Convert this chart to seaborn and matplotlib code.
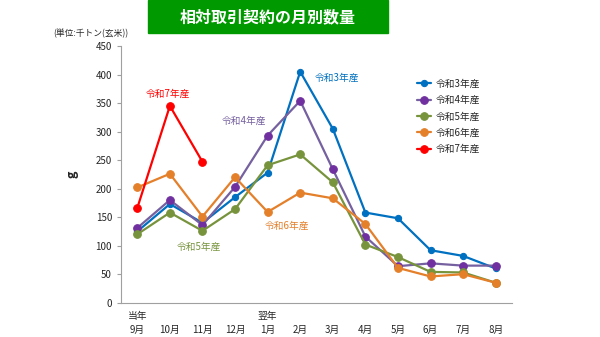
import numpy as np
import pandas as pd
import matplotlib
matplotlib.use('Agg')
import matplotlib.pyplot as plt
from matplotlib.patches import Rectangle
import seaborn as sns

# データ (単位: 千トン(玄米))
months = ['当年\n9月', '\n10月', '\n11月', '\n12月', '翌年\n1月', '\n2月', '\n3月',
          '\n4月', '\n5月', '\n6月', '\n7月', '\n8月']
r3 = [125, 173, 140, 185, 228, 405, 305, 158, 148, 92, 82, 60]
r4 = [131, 180, 136, 203, 293, 354, 234, 116, 64, 69, 65, 65]
r5 = [120, 158, 126, 164, 241, 260, 211, 102, 80, 54, 53, 35]
r6 = [202, 226, 151, 220, 159, 193, 183, 138, 61, 46, 50, 35]
r7 = [166, 345, 247]

series_names = ['令和3年産', '令和4年産', '令和5年産', '令和6年産', '令和7年産']
series_vals = [r3, r4, r5, r6, r7]
colors = ['#0070C0', '#7030A0', '#77933C', '#E47F2A', '#FF0000']
line_colors = ['#0070C0', '#7560A0', '#77933C', '#E47F2A', '#FF0000']
marker_sizes = [4.5, 5.5, 5.5, 5.5, 5.5]

rows = []
for name, vals in zip(series_names, series_vals):
    for i, v in enumerate(vals):
        rows.append({'series': name, 'pos': i, 'value': v})
df = pd.DataFrame(rows)

sns.set_theme(style='white')
plt.rcParams['font.family'] = ['Noto Sans CJK JP', 'DejaVu Sans']

fig = plt.figure(figsize=(6, 3.37), dpi=100)
ax = fig.add_axes([121 / 600, 1 - 302.7 / 337, (512 - 121) / 600, (302.7 - 46) / 337])

for name, c, lc, ms in zip(series_names, colors, line_colors, marker_sizes):
    d = df[df['series'] == name]
    sns.lineplot(data=d, x='pos', y='value', ax=ax, color=lc, linewidth=1.6,
                 marker='o', markersize=ms, markerfacecolor=c, markeredgecolor=c,
                 label=name, sort=False, errorbar=None)

ax.set_xlim(-0.5, 11.5)
ax.set_ylim(0, 450)
ax.set_yticks(np.arange(0, 451, 50))
ax.set_xticks(range(len(months)))
ax.set_xticklabels(months, linespacing=1.45)
ax.set_xticks(np.arange(-0.5, 12, 1), minor=True)
ax.tick_params(axis='x', which='major', length=0, labelsize=7, pad=6)
ax.tick_params(axis='x', which='minor', length=3, color='#A0A0A0', width=0.8, direction='out')
ax.tick_params(axis='y', length=3, color='#A0A0A0', width=0.8, labelsize=7, direction='out', left=True)
for s in ['top', 'right']:
    ax.spines[s].set_visible(False)
for s in ['left', 'bottom']:
    ax.spines[s].set_color('#A0A0A0')
    ax.spines[s].set_linewidth(0.8)
ax.set_xlabel('')
ax.set_ylabel('g', rotation=90, fontsize=9, fontweight='bold', labelpad=12)

# 系列ラベル
ax.text(5.45, 395, '令和3年産', color='#0070C0', fontsize=7, va='center')
ax.text(0.25, 367, '令和7年産', color='#FF0000', fontsize=7, va='center')
ax.text(2.6, 319, '令和4年産', color='#7560A0', fontsize=7, va='center')
ax.text(3.9, 134, '令和6年産', color='#E47F2A', fontsize=7, va='center')
ax.text(1.2, 98, '令和5年産', color='#77933C', fontsize=7, va='center')

leg = ax.legend(loc='upper left', bbox_to_anchor=(408 / 600, 1 - 70 / 337),
                bbox_transform=fig.transFigure, frameon=False, fontsize=7,
                handlelength=1.5, handletextpad=0.45, labelspacing=0.65)

# タイトル
fig.patches.append(Rectangle((148 / 600, 1 - 33 / 337), 240 / 600, 33 / 337,
                             transform=fig.transFigure, facecolor='#009900',
                             edgecolor='#009900', zorder=0))
fig.text(268 / 600, 1 - 17 / 337, '相対取引契約の月別数量', color='white', fontsize=11.5,
         fontweight='bold', ha='center', va='center')
fig.text(91 / 600, 1 - 33 / 337, '(単位:千トン(玄米))', fontsize=6.3, ha='center', va='center')

fig.savefig('out.png', dpi=100)
